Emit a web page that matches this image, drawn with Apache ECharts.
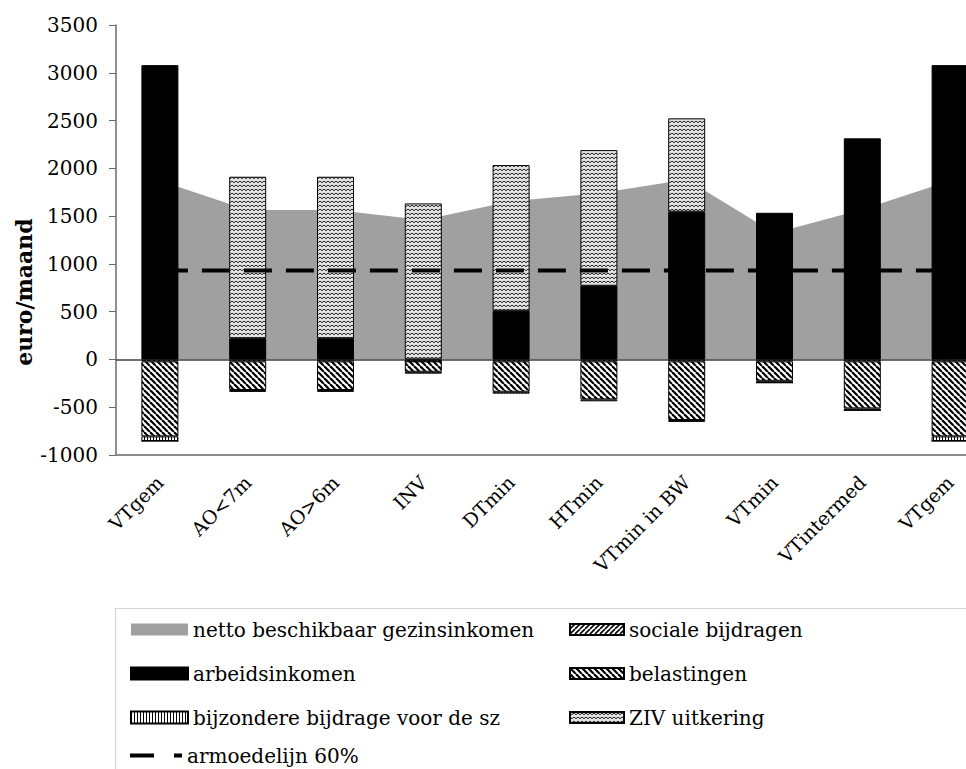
<!DOCTYPE html>
<html><head><meta charset="utf-8">
<script src="https://cdn.jsdelivr.net/npm/echarts@6/dist/echarts.min.js"></script>
<style>html,body{margin:0;padding:0;background:#fff;overflow:hidden}#c{width:966px;height:769px}</style>
</head><body><div id="c"></div>
<script>
// ---- data ----
const categories = ['VTgem', 'AO<7m', 'AO>6m', 'INV', 'DTmin', 'HTmin', 'VTmin in BW', 'VTmin', 'VTintermed', 'VTgem'];
const netto = [1870, 1565, 1565, 1460, 1655, 1738, 1883, 1322, 1570, 1870];
const arbeidsinkomen = [3080, 221, 221, 0, 510, 771, 1546, 1535, 2314, 3080];
const zivUitkering = [0, 1691, 1691, 1633, 1524, 1420, 977, 0, 0, 0];
const socialeBijdragen = [-20, -20, -20, -20, -20, -20, -20, -20, -20, -20];
const belastingen = [-785, -300, -300, -109, -318, -398, -614, -203, -492, -785];
const bijzondereBijdrage = [-48, -20, -20, -20, -20, -20, -20, -20, -20, -48];
const armoedelijn = [930, 930, 930, 930, 930, 930, 930, 930, 930, 930];
const yTicks = {min: -1000, max: 3500, interval: 500};

// ---- patterns ----
function tile(w, h, draw) {
  const c = document.createElement('canvas');
  c.width = w; c.height = h;
  const g = c.getContext('2d');
  g.fillStyle = '#fff'; g.fillRect(0, 0, w, h);
  draw(g, w, h);
  return {image: c, repeat: 'repeat'};
}
const patBackslash = tile(6, 6, (g, w, h) => {
  g.strokeStyle = '#000'; g.lineWidth = 2.2;
  for (let k = -1; k <= 1; k++) { g.beginPath(); g.moveTo(k * w, 0); g.lineTo(k * w + w, h); g.stroke(); }
});
const patSlash = tile(5, 5, (g, w, h) => {
  g.strokeStyle = '#000'; g.lineWidth = 1.6;
  for (let k = -1; k <= 1; k++) { g.beginPath(); g.moveTo(k * w, h); g.lineTo(k * w + w, 0); g.stroke(); }
});
const patVertical = tile(3, 3, (g, w, h) => {
  g.fillStyle = '#000'; g.fillRect(0, 0, 1, h);
});
const patWave = tile(4, 4, (g, w, h) => {
  g.fillStyle = '#e4e4e4'; g.fillRect(0, 0, w, h);
  g.strokeStyle = '#000'; g.lineWidth = 1;
  g.beginPath(); g.moveTo(0, 0.8); g.lineTo(2, 2.8); g.lineTo(4, 0.8); g.stroke();
});

const font = 'DejaVu Serif';
const chart = echarts.init(document.getElementById('c'), null, {renderer: 'svg'});
const barBase = {type: 'bar', stack: 'tot', barWidth: 37, z: 3};
const legendText = {fontFamily: font, fontSize: 20, color: '#000', lineHeight: 21};

chart.setOption({
  animation: false,
  grid: {left: 116, width: 878, top: 25, height: 430, containLabel: false, outerBoundsMode: 'none'},
  xAxis: {
    type: 'category', data: categories, boundaryGap: true,
    axisLine: {onZero: false, lineStyle: {color: '#8a8a8a', width: 2}},
    axisTick: {show: false},
    axisLabel: {interval: 0, rotate: 45, margin: 24, color: '#000', fontFamily: font, fontSize: 19}
  },
  yAxis: {
    type: 'value', min: yTicks.min, max: yTicks.max, interval: yTicks.interval,
    axisLine: {show: true, lineStyle: {color: '#6a6a6a', width: 1.5}},
    axisTick: {show: true, length: 7, lineStyle: {color: '#6a6a6a'}},
    axisLabel: {margin: 18, color: '#000', fontFamily: font, fontSize: 20, formatter: v => String(v)},
    splitLine: {show: false}
  },
  legend: [
    {orient: 'vertical', left: 125, top: 614, itemWidth: 57, itemHeight: 12, itemGap: 23, textStyle: legendText,
     data: [{name: 'netto beschikbaar gezinsinkomen', icon: 'rect'}, {name: 'arbeidsinkomen', icon: 'rect'},
            {name: 'bijzondere bijdrage voor de sz', icon: 'rect'}]},
    {orient: 'vertical', left: 125, top: 740, itemWidth: 52, itemHeight: 4, textStyle: legendText,
     itemStyle: {color: '#000', borderWidth: 0}, lineStyle: {width: 0, type: 'solid'},
     data: [{name: 'armoedelijn 60%', icon: 'path://M0,0H24V4H0Z M44,0H52V4H44Z'}]},
    {orient: 'vertical', left: 564, top: 614, itemWidth: 54, itemHeight: 11, itemGap: 23, textStyle: legendText,
     data: [{name: 'sociale bijdragen', icon: 'rect'}, {name: 'belastingen', icon: 'rect'},
            {name: 'ZIV uitkering', icon: 'rect'}]}
  ],
  graphic: [
    {type: 'rect', left: 113, top: 606, shape: {width: 900, height: 200}, silent: true,
     style: {fill: 'none', stroke: '#d4d4d4', lineWidth: 1.2}, z: -1},
    {type: 'text', x: 24, y: 292, rotation: Math.PI / 2, silent: true,
     style: {text: 'euro/maand', fontFamily: font, fontWeight: 'bold', fontSize: 22, fill: '#000',
             align: 'center', verticalAlign: 'middle'}}
  ],
  series: [
    {name: 'netto beschikbaar gezinsinkomen', type: 'line', data: netto, z: 1, symbol: 'none',
     lineStyle: {width: 0, color: '#a0a0a0'}, itemStyle: {color: '#a0a0a0'},
     areaStyle: {color: '#a0a0a0', opacity: 1},
     markLine: {silent: true, symbol: 'none', label: {show: false}, z: 2,
       lineStyle: {color: '#404040', width: 1.5, type: 'solid'}, data: [{yAxis: 0}]}},
    Object.assign({}, barBase, {name: 'sociale bijdragen', data: socialeBijdragen,
      itemStyle: {color: patSlash, borderColor: '#000', borderWidth: 1}}),
    Object.assign({}, barBase, {name: 'arbeidsinkomen', data: arbeidsinkomen,
      itemStyle: {color: '#000', borderColor: '#000', borderWidth: 1}}),
    Object.assign({}, barBase, {name: 'belastingen', data: belastingen,
      itemStyle: {color: patBackslash, borderColor: '#000', borderWidth: 1}}),
    Object.assign({}, barBase, {name: 'bijzondere bijdrage voor de sz', data: bijzondereBijdrage,
      itemStyle: {color: patVertical, borderColor: '#000', borderWidth: 1}}),
    Object.assign({}, barBase, {name: 'ZIV uitkering', data: zivUitkering,
      itemStyle: {color: patWave, borderColor: '#000', borderWidth: 1}}),
    {name: 'armoedelijn 60%', type: 'line', data: armoedelijn, z: 5, symbol: 'none',
     lineStyle: {color: '#000', width: 4, type: [28, 14]}, itemStyle: {color: '#000'}}
  ]
});
</script></body></html>
